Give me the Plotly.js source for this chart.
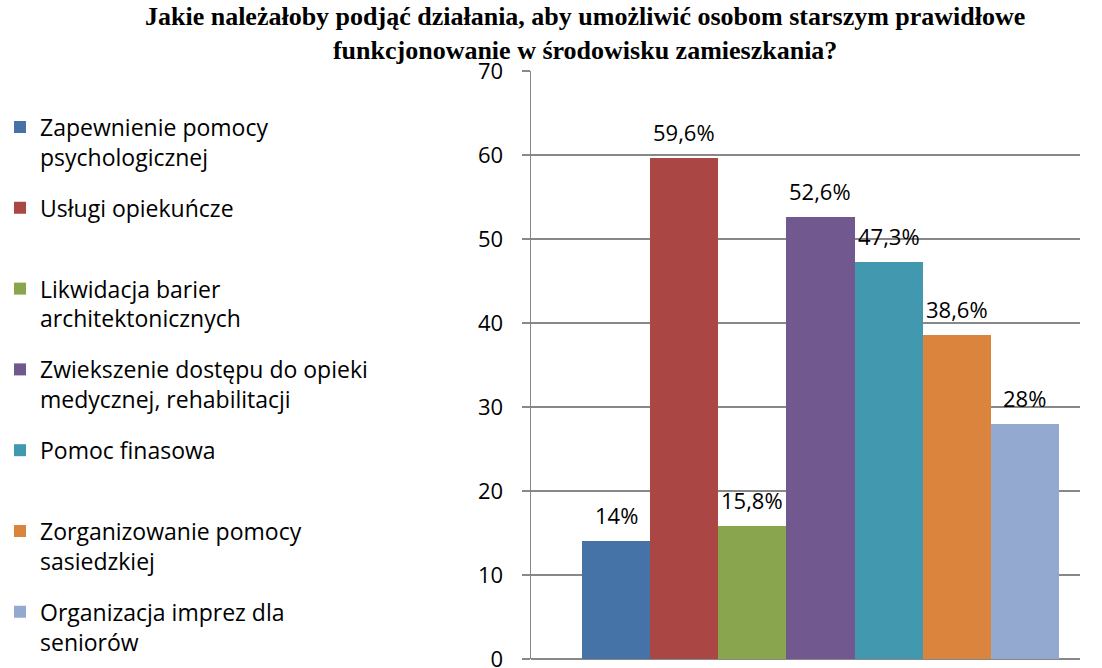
<!DOCTYPE html>
<html>
<head>
<meta charset="utf-8">
<script src="https://cdn.plot.ly/plotly-3.0.1.min.js"></script>
<style>
  body { margin: 0; background: #fff; }
  #plotArea { width: 1102px; height: 668px; }
</style>
</head>
<body>
<div id="plotArea"></div>
<script>
// answers (category keys), legend text and percentages
var categories = ["Zapewnienie pomocy psychologicznej", "Usługi opiekuńcze",
    "Likwidacja barier architektonicznych", "Zwiekszenie dostępu do opieki medycznej, rehabilitacji",
    "Pomoc finasowa", "Zorganizowanie pomocy sasiedzkiej", "Organizacja imprez dla seniorów"];
var legendLabels = ["Zapewnienie pomocy<br>psychologicznej", "Usługi opiekuńcze<br>\u00a0",
    "Likwidacja barier<br>architektonicznych", "Zwiekszenie dostępu do opieki<br>medycznej, rehabilitacji",
    "Pomoc finasowa<br>\u00a0", "Zorganizowanie pomocy<br>sasiedzkiej", "Organizacja imprez dla<br>seniorów"];
var percents = [14, 59.6, 15.8, 52.6, 47.3, 38.6, 28];
var yTicks = [0, 10, 20, 30, 40, 50, 60, 70];
var colors = ["#4572A7", "#AA4643", "#89A54E", "#71588F", "#4198AF", "#DB843D", "#93A9CF"];

var labelFont = {family: "Open Sans", size: 22, color: "#000"};

// one trace per answer so each gets its own legend entry
var data = categories.map(function(cat, i) {
    return {
        x: [cat],
        y: [percents[i]],
        name: legendLabels[i],
        legendgroup: "g" + i,
        type: "bar",
        marker: {color: colors[i]},
        hoverinfo: "y"
    };
});

// value labels above the bars, polish decimal comma
var labels = categories.map(function(cat, i) {
    return {
        x: cat,
        y: percents[i],
        xref: "x",
        yref: "y",
        text: String(percents[i]).replace(".", ",") + "%",
        showarrow: false,
        yanchor: "middle",
        yshift: 26,
        font: labelFont
    };
});

var layout = {
    width: 1102,
    height: 668,
    paper_bgcolor: "#fff",
    plot_bgcolor: "#fff",
    margin: {l: 531, r: 22, t: 71, b: 9},
    title: {
        text: "Jakie należałoby podjąć działania, aby umożliwić osobom starszym prawidłowe<br>funkcjonowanie w środowisku zamieszkania?",
        font: {family: "Liberation Serif", size: 26, color: "#000", weight: "bold"},
        x: 0.531,
        xanchor: "center",
        xref: "container",
        y: 0.962,
        yanchor: "middle",
        yref: "container"
    },
    barmode: "overlay",
    bargap: 0,
    showlegend: true,
    legend: {
        xref: "container",
        yref: "container",
        x: 0,
        y: 0.842,
        xanchor: "left",
        yanchor: "top",
        valign: "top",
        traceorder: "grouped",
        tracegroupgap: 18,
        maxheight: 640,
        font: {family: "Open Sans", size: 23, color: "#000"},
        bgcolor: "rgba(0,0,0,0)"
    },
    xaxis: {
        type: "category",
        range: [-1.248, 6.808],
        showticklabels: false,
        showgrid: false,
        zeroline: false,
        showline: false,
        ticks: ""
    },
    yaxis: {
        range: [0, 70],
        tickmode: "array",
        tickvals: yTicks,
        ticktext: yTicks.map(String),
        ticks: "outside",
        ticklen: 8,
        tickwidth: 1.5,
        tickcolor: "#888",
        showgrid: true,
        gridcolor: "#888",
        gridwidth: 1.5,
        zeroline: true,
        zerolinecolor: "#888",
        zerolinewidth: 1.5,
        showline: true,
        linecolor: "#888",
        linewidth: 1.5,
        ticklabelstandoff: 14,
        ticklabeloverflow: "allow",
        tickfont: labelFont
    },
    annotations: labels
};

Plotly.newPlot("plotArea", data, layout, {displayModeBar: false, staticPlot: true});
</script>
</body>
</html>
